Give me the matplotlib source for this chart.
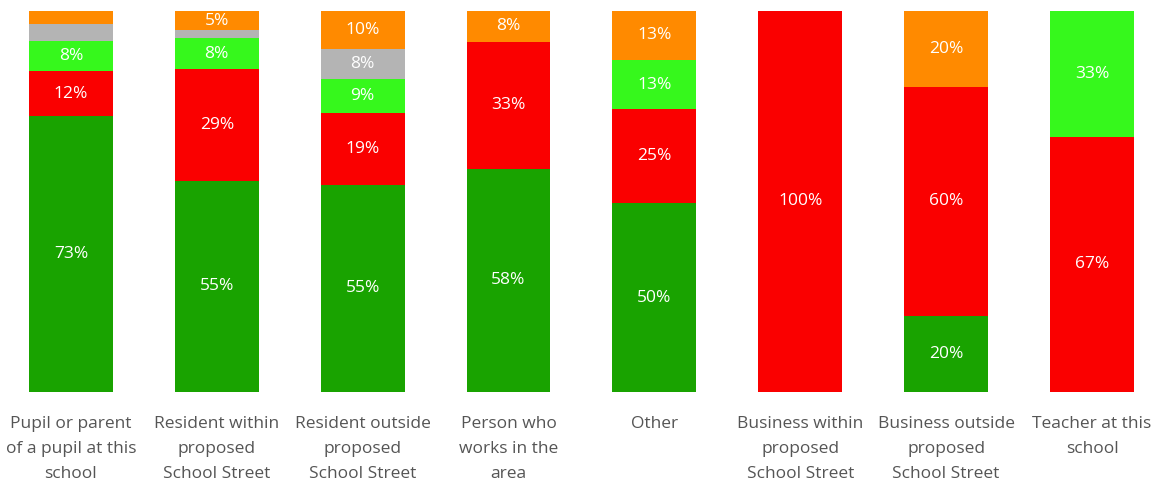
import matplotlib
matplotlib.use("Agg")
import matplotlib.pyplot as plt
import numpy as np

categories = [
    "Pupil or parent\nof a pupil at this\nschool",
    "Resident within\nproposed\nSchool Street",
    "Resident outside\nproposed\nSchool Street",
    "Person who\nworks in the\narea",
    "Other",
    "Business within\nproposed\nSchool Street",
    "Business outside\nproposed\nSchool Street",
    "Teacher at this\nschool",
]

# stacked bottom -> top, percent of respondents in each group
# (grey / small orange slices carry no label, so they are estimated)
dark_green = [73, 55, 55, 58, 50, 0, 20, 0]
red = [12, 29, 19, 33, 25, 100, 60, 67]
light_green = [8, 8, 9, 0, 13, 0, 0, 33]
grey = [4.5, 2.1, 8, 0, 0, 0, 0, 0]
orange = [3.4, 5, 10, 8, 13, 0, 20, 0]

series = [
    (dark_green, "#19a300"),
    (red, "#fa0000"),
    (light_green, "#36f81c"),
    (grey, "#b4b4b4"),
    (orange, "#ff8a00"),
]

plt.rcParams["font.family"] = ["Open Sans", "DejaVu Sans"]

fig = plt.figure(figsize=(11.53, 4.9), dpi=100)
ax = fig.add_axes([0, 0.2, 1, 0.7776])

x = np.arange(len(categories))
totals = np.sum([np.array(s[0], dtype=float) for s in series], axis=0)
bottom = np.zeros(len(categories))
for values, color in series:
    vals = np.array(values, dtype=float)
    frac = vals / totals * 100  # every bar fills to 100%
    ax.bar(x, frac, bottom=bottom, width=0.575, color=color, linewidth=0)
    for i, v in enumerate(vals):
        if v >= 5:
            ax.text(x[i], bottom[i] + frac[i] / 2, f"{v:.0f}%", ha="center", va="center",
                    color="white", fontsize=12.5)
    bottom += frac

ax.set_xlim(-0.486, 7.418)
ax.set_ylim(0, 100)
ax.set_xticks(x)
ax.set_xticklabels(categories, fontsize=12.5, color="#555555", linespacing=1.75)
ax.tick_params(axis="x", length=0, pad=17)
ax.set_yticks([])
for s in ax.spines.values():
    s.set_visible(False)

fig.savefig("out.png", dpi=100)
